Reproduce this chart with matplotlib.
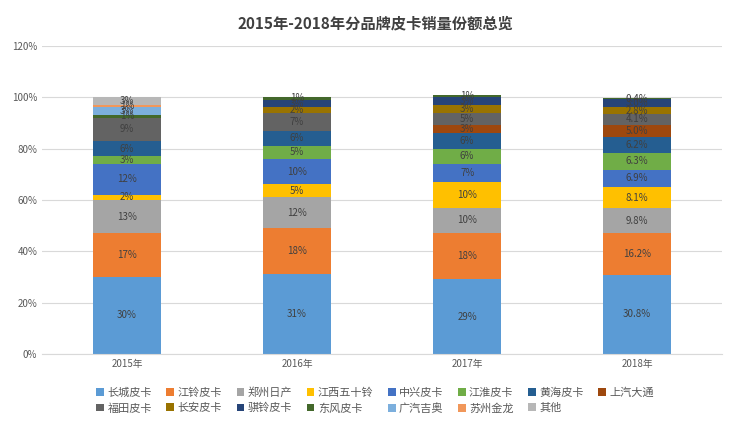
import matplotlib.pyplot as plt
import numpy as np

plt.rcParams['font.family'] = ['Noto Sans CJK SC', 'DejaVu Sans']

years = ['2015年', '2016年', '2017年', '2018年']
brands = ['长城皮卡', '江铃皮卡', '郑州日产', '江西五十铃', '中兴皮卡', '江淮皮卡',
          '黄海皮卡', '上汽大通', '福田皮卡', '长安皮卡', '骐铃皮卡', '东风皮卡',
          '广汽吉奥', '苏州金龙', '其他']
colors = ['#5B9BD5', '#ED7D31', '#A5A5A5', '#FFC000', '#4472C4', '#70AD47',
          '#255E91', '#9E480E', '#636363', '#997300', '#264478', '#43682B',
          '#7CAFDD', '#F1975A', '#B7B7B7']

# share (%) per brand, one value per year
share_2015 = [30, 17, 13, 2, 12, 3, 6, 0, 9, 0, 0, 1, 3, 1, 3]
share_2016 = [31, 18, 12, 5, 10, 5, 6, 0, 7, 2, 3, 1, 0, 0, 0]
share_2017 = [29, 18, 10, 10, 7, 6, 6, 3, 5, 3, 3, 1, 0, 0, 0]
share_2018 = [30.8, 16.2, 9.8, 8.1, 6.9, 6.3, 6.2, 5.0, 4.1, 2.8, 3.0, 0.4, 0, 0, 0]

data = np.array([share_2015, share_2016, share_2017, share_2018]).T
label_fmt = ['{:.0f}%', '{:.0f}%', '{:.0f}%', '{:.1f}%']

fig = plt.figure(figsize=(7.5, 4.28), dpi=100)
ax = fig.add_axes([0.056, 0.173, 0.907, 0.72])

x = np.arange(len(years))
bottom = np.zeros(len(years))
for i, name in enumerate(brands):
    vals = data[i]
    ax.bar(x, vals, 0.4, bottom=bottom, color=colors[i], label=name, zorder=2)
    for j in range(len(years)):
        if vals[j] > 0:
            ax.text(x[j], bottom[j] + vals[j] / 2, label_fmt[j].format(vals[j]),
                    ha='center', va='center', fontsize=7, color='#404040', zorder=3)
    bottom += vals

ax.set_xlim(-0.5, 3.5)
ax.set_ylim(0, 120)
ax.set_yticks(np.arange(0, 121, 20))
ax.set_yticklabels(['{}%'.format(v) for v in range(0, 121, 20)])
ax.set_xticks(x)
ax.set_xticklabels(years)
ax.tick_params(axis='both', length=0, labelsize=7, colors='#595959')
ax.grid(axis='y', color='#D9D9D9', linewidth=0.8, zorder=0)
for s in ['top', 'right', 'left']:
    ax.spines[s].set_visible(False)
ax.spines['bottom'].set_color('#D9D9D9')

fig.suptitle('2015年-2018年分品牌皮卡销量份额总览', y=0.965, fontsize=11,
             fontweight='bold', color='#404040')

# legend fills column by column, so reorder to read row by row
handles, labels = ax.get_legend_handles_labels()
order = []
for c in range(8):
    order.append(c)
    if c + 8 < len(handles):
        order.append(c + 8)
fig.legend([handles[k] for k in order], [labels[k] for k in order],
           loc='lower center', bbox_to_anchor=(0.5, 0.01), ncol=8, frameon=False,
           fontsize=8, handlelength=0.7, handleheight=0.7, handletextpad=0.3,
           columnspacing=1.3, labelspacing=0.45, labelcolor='#595959')

fig.savefig('out.png', dpi=100)
